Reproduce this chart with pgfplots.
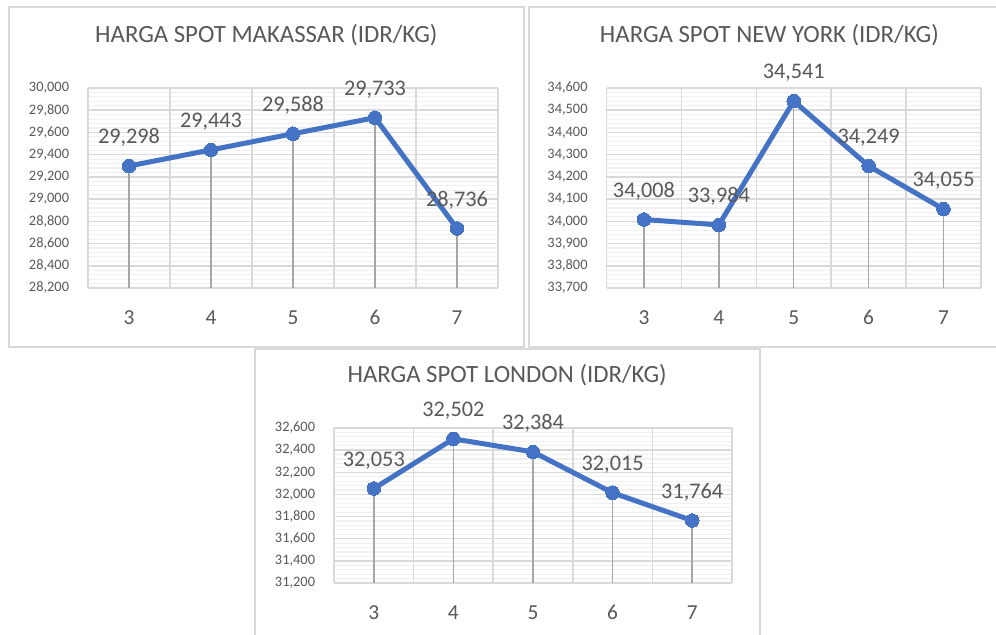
\documentclass[border=0pt]{standalone}
\usepackage{pgfplots}
\pgfplotsset{compat=1.18}
\usepackage{fontspec}
\setmainfont{Carlito}
\definecolor{txt}{HTML}{595959}
\definecolor{majorc}{HTML}{D9D9D9}
\definecolor{minorc}{HTML}{F0F0F0}
\definecolor{blu}{HTML}{4472C4}
\definecolor{dropc}{HTML}{A6A6A6}
\pgfplotsset{
 exc/.style={
  scale only axis,
  axis line style={draw=none},
  xmin=2.5, xmax=7.5,
  xtick={3,4,5,6,7},
  extra x ticks={2.5,3.5,4.5,5.5,6.5,7.5},
  extra x tick labels={},
  extra x tick style={grid=major, major grid style={draw=majorc, line width=1.1pt}},
  ymajorgrids, yminorgrids,
  minor y tick num=4,
  major grid style={draw=majorc, line width=1.1pt},
  minor grid style={draw=minorc, line width=0.8pt},
  major tick length=0pt, minor tick length=0pt,
  scaled y ticks=false,
  /pgf/number format/assume math mode=true,
  yticklabel style={/pgf/number format/.cd, fixed, 1000 sep={,}, /tikz/.cd, font=\fontsize{10.8}{12}\selectfont, text=txt, anchor=east, inner sep=0pt, xshift=-14pt},
  xticklabel style={font=\fontsize{16}{18}\selectfont, text=txt, anchor=base, inner sep=0pt, yshift=-27.5pt},
  title style={at={(axis description cs:0.435,1)}, anchor=base, inner sep=0pt, yshift=28pt, font=\fontsize{18.6}{20}\selectfont, text=txt},
 },
 dropst/.style={ycomb, draw=dropc, line width=1.1pt, no markers},
 linest/.style={draw=blu, line width=3.75pt, mark=*, mark size=5.1pt, mark options={fill=blu, draw=blu, line width=0pt},
  nodes near coords={\pgfmathprintnumber[fixed,precision=0,1000 sep={,}]{\pgfplotspointmeta}},
  every node near coord/.append style={anchor=base, inner sep=0pt, yshift=16.7pt, font=\fontsize{16.7}{18}\selectfont, text=txt}},
}
\begin{document}
\begin{tikzpicture}
\path[use as bounding box, clip] (0pt,0pt) rectangle (747pt,476.25pt);
\fill[white] (0pt,0pt) rectangle (747pt,476.25pt);
\draw[majorc, line width=1.1pt] (6.75pt,216pt) rectangle (393pt,471pt);
\draw[majorc, line width=1.1pt] (396.75pt,216pt) rectangle (760pt,471pt);
\fill[white] (191.25pt,-10pt) rectangle (570pt,214.5pt);
\draw[majorc, line width=1.1pt] (191.25pt,-10pt) rectangle (570pt,214.5pt);

\begin{axis}[exc, at={(66pt,260.25pt)}, anchor=south west, width=307.5pt, height=150pt,
  ymin=28200, ymax=30000, ytick={28200,28400,...,30000},
  title={HARGA SPOT MAKASSAR (IDR/KG)}]
\addplot[dropst] coordinates {(3,29298) (4,29443) (5,29588) (6,29733) (7,28736)};
\addplot[linest] coordinates {(3,29298) (4,29443) (5,29588) (6,29733) (7,28736)};
\end{axis}

\begin{axis}[exc, at={(454.875pt,260.25pt)}, anchor=south west, width=280.875pt, height=150pt,
  ymin=33700, ymax=34600, ytick={33700,33800,...,34600},
  title={HARGA SPOT NEW YORK (IDR/KG)}]
\addplot[dropst] coordinates {(3,34008) (4,33984) (5,34541) (6,34249) (7,34055)};
\addplot[linest] coordinates {(3,34008) (4,33984) (5,34541) (6,34249) (7,34055)};
\end{axis}

\begin{axis}[exc, at={(250.5pt,39pt)}, anchor=south west, width=298.5pt, height=116.25pt,
  ymin=31200, ymax=32600, ytick={31200,31400,...,32600},
  title={HARGA SPOT LONDON (IDR/KG)}]
\addplot[dropst] coordinates {(3,32053) (4,32502) (5,32384) (6,32015) (7,31764)};
\addplot[linest] coordinates {(3,32053) (4,32502) (5,32384) (6,32015) (7,31764)};
\end{axis}
\end{tikzpicture}
\end{document}
